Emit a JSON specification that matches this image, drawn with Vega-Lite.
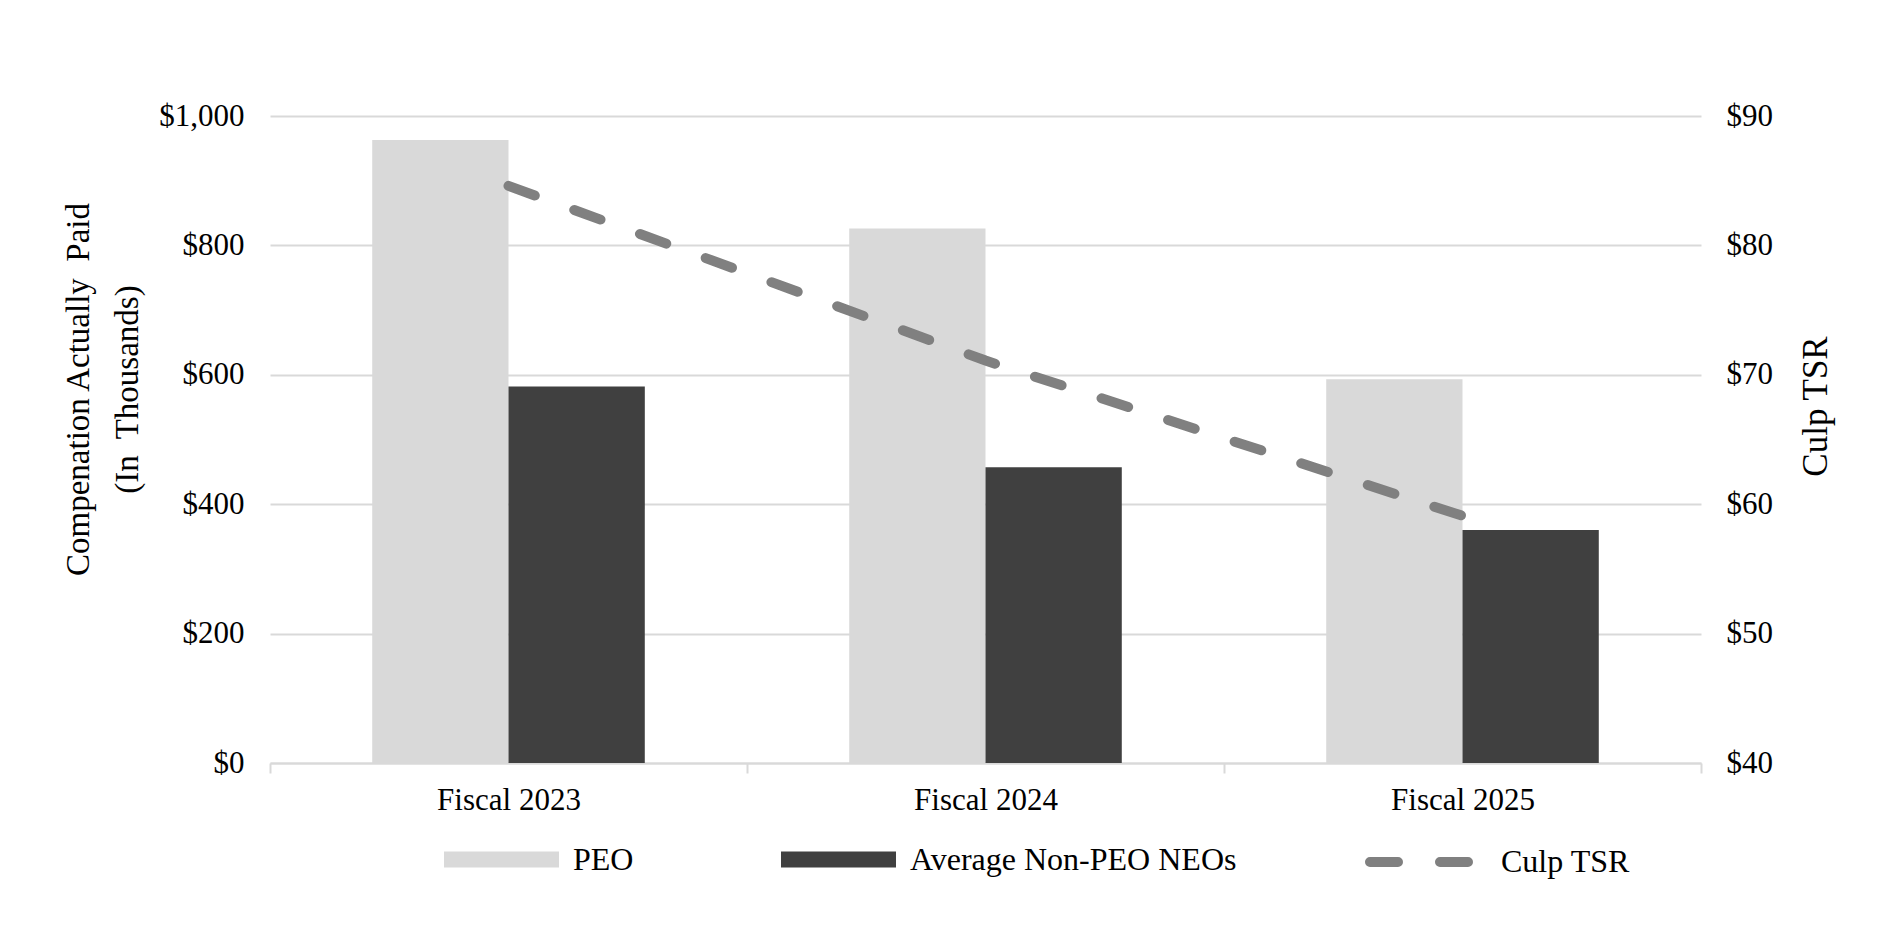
{
  "$schema": "https://vega.github.io/schema/vega-lite/v6.json",
  "width": 1431,
  "height": 647,
  "autosize": {"type": "none"},
  "padding": {"left": 270, "top": 116, "right": 191, "bottom": 174},
  "background": "white",
  "config": {
    "view": {"stroke": null},
    "font": "Liberation Serif",
    "axis": {
      "labelFont": "Liberation Serif",
      "titleFont": "Liberation Serif",
      "labelColor": "#000000",
      "titleColor": "#000000",
      "titleFontWeight": "normal",
      "labelFontSize": 31,
      "titleFontSize": 33
    },
    "legend": {
      "labelFont": "Liberation Serif",
      "labelFontSize": 32,
      "labelColor": "#000000",
      "labelLimit": 600
    }
  },
  "datasets": {
    "comp": [
      {"year": "Fiscal 2023", "series": "PEO", "value": 963},
      {"year": "Fiscal 2023", "series": "Average Non-PEO NEOs", "value": 582},
      {"year": "Fiscal 2024", "series": "PEO", "value": 826},
      {"year": "Fiscal 2024", "series": "Average Non-PEO NEOs", "value": 457},
      {"year": "Fiscal 2025", "series": "PEO", "value": 593},
      {"year": "Fiscal 2025", "series": "Average Non-PEO NEOs", "value": 360}
    ],
    "tsr": [
      {"year": "Fiscal 2023", "tsr": 84.6},
      {"year": "Fiscal 2024", "tsr": 71.1},
      {"year": "Fiscal 2025", "tsr": 59.1}
    ]
  },
  "layer": [
    {
      "data": {"name": "comp"},
      "mark": {"type": "bar"},
      "encoding": {
        "x": {
          "field": "year",
          "type": "nominal",
          "scale": {"paddingInner": 0, "paddingOuter": 0},
          "axis": {
            "title": null,
            "labelAngle": 0,
            "domainColor": "#d9d9d9",
            "domainWidth": 2,
            "tickColor": "#d9d9d9",
            "tickWidth": 2,
            "tickSize": 10,
            "tickBand": "extent",
            "labelPadding": 12,
            "grid": false
          }
        },
        "xOffset": {
          "field": "series",
          "type": "nominal",
          "sort": ["PEO", "Average Non-PEO NEOs"],
          "scale": {"paddingOuter": 0.75, "paddingInner": 0}
        },
        "y": {
          "field": "value",
          "type": "quantitative",
          "scale": {"domain": [0, 1000]},
          "axis": {
            "values": [0, 200, 400, 600, 800, 1000],
            "format": "$,.0f",
            "title": ["Compenation Actually\u00a0 Paid", "(In\u00a0 Thousands)"],
            "grid": true,
            "gridColor": "#d9d9d9",
            "gridWidth": 2,
            "domain": false,
            "ticks": false,
            "labelPadding": 26,
            "titlePadding": 14,
            "titleY": 273,
            "titleLineHeight": 49
          }
        },
        "color": {
          "field": "series",
          "type": "nominal",
          "scale": {
            "domain": ["PEO", "Average Non-PEO NEOs"],
            "range": ["#d9d9d9", "#404040"]
          },
          "legend": {
            "orient": "none",
            "legendX": 174,
            "legendY": 686,
            "direction": "horizontal",
            "title": null,
            "symbolSize": 13225,
            "symbolType": "M-1,-0.14H1V0.14H-1Z",
            "symbolStrokeWidth": 0,
            "labelOffset": 14,
            "columnPadding": 147,
            "gridAlign": "none",
            "padding": 0
          }
        }
      }
    },
    {
      "data": {"name": "tsr"},
      "mark": {"type": "line", "strokeWidth": 10, "strokeCap": "round", "color": "#808080"},
      "encoding": {
        "x": {"field": "year", "type": "nominal"},
        "y": {
          "field": "tsr",
          "type": "quantitative",
          "scale": {"domain": [40, 90]},
          "axis": {
            "orient": "right",
            "values": [40, 50, 60, 70, 80, 90],
            "format": "$,.0f",
            "title": "Culp TSR",
            "grid": false,
            "domain": false,
            "ticks": false,
            "labelPadding": 25,
            "titleAngle": 270,
            "titleFontSize": 35,
            "titleX": 114,
            "titleY": 290,
            "titleBaseline": "middle",
            "titleAlign": "center"
          }
        },
        "strokeDash": {
          "datum": "Culp TSR",
          "scale": {"domain": ["Culp TSR"], "range": [[28, 42]]},
          "legend": {
            "orient": "none",
            "legendX": 1095,
            "legendY": 686,
            "direction": "horizontal",
            "title": null,
            "symbolType": "stroke",
            "symbolSize": 12100,
            "symbolStrokeColor": "#808080",
            "symbolStrokeWidth": 10,
            "labelOffset": 16,
            "padding": 0,
            "encode": {
              "symbols": {
                "update": {
                  "strokeCap": {"value": "round"}
                }
              }
            }
          }
        }
      }
    }
  ],
  "resolve": {"scale": {"y": "independent"}}
}
